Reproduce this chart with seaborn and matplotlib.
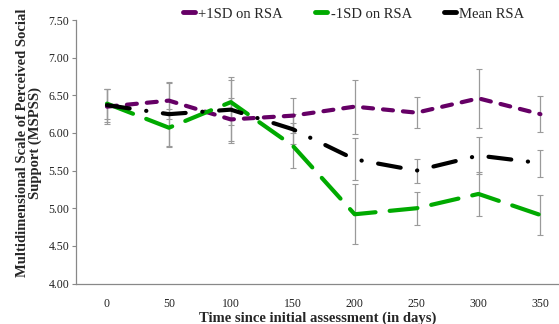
import matplotlib

matplotlib.use("Agg")

import matplotlib.pyplot as plt
import pandas as pd
import seaborn as sns
from matplotlib.lines import Line2D

days = [0, 50, 100, 150, 200, 250, 300, 350]
plus_sd = [6.35, 6.43, 6.18, 6.23, 6.35, 6.27, 6.46, 6.25]
minus_sd = [6.39, 6.07, 6.41, 5.83, 4.92, 5.00, 5.19, 4.91]
mean_rsa = [6.37, 6.25, 6.31, 6.05, 5.65, 5.50, 5.70, 5.60]
plus_err = [0.23, 0.25, 0.28, 0.23, 0.36, 0.21, 0.39, 0.24]
minus_err = [0.20, 0.25, 0.30, 0.30, 0.40, 0.22, 0.29, 0.27]
mean_err = [0.22, 0.42, 0.44, 0.20, 0.28, 0.16, 0.24, 0.18]
labels = ["+1SD on RSA", "-1SD on RSA", "Mean RSA"]

sns.set_style("white")
plt.rcParams["font.family"] = ["Liberation Serif", "DejaVu Serif"]

fig = plt.figure(figsize=(5.59, 3.24), dpi=100)
ax = fig.add_axes([0.136, 0.125, 0.864, 0.813])

series = [
    (plus_sd, plus_err, "#660066", (0, (2.4, 2.4))),
    (minus_sd, minus_err, "#00AA00", (0, (6.7, 3.4))),
    (mean_rsa, mean_err, "black", (0, (5.5, 4, 0.05, 4))),
]

for (vals, err, col, ls), lab in zip(series, labels):
    ax.errorbar(days, vals, yerr=err, fmt="none", ecolor="#9a9a9a",
                elinewidth=0.9, capsize=2, capthick=0.8, zorder=1)

for (vals, err, col, ls), lab in zip(series, labels):
    df = pd.DataFrame({"days": days, "val": vals})
    sns.lineplot(data=df, x="days", y="val", ax=ax, color=col, linewidth=3,
                 linestyle=ls, dash_capstyle="round", solid_capstyle="round",
                 zorder=3, label=None, legend=False)

ax.set_xlim(-25, 365)
ax.set_ylim(4.0, 7.5)
ax.set_xticks(days)
ax.set_yticks([4.0, 4.5, 5.0, 5.5, 6.0, 6.5, 7.0, 7.5])
ax.set_yticklabels([f"{v:.2f}" for v in ax.get_yticks()])
ax.tick_params(axis="both", labelsize=8.5, colors="#222222")
ax.tick_params(axis="y", left=True, length=3, width=0.8, color="#888888", pad=2)
ax.tick_params(axis="x", bottom=False, pad=7)

for s in ["top", "right"]:
    ax.spines[s].set_visible(False)
for s in ["left", "bottom"]:
    ax.spines[s].set_color("#888888")
    ax.spines[s].set_linewidth(0.9)

ax.set_xlabel("Time since initial assessment (in days)", fontsize=10.5,
              fontweight="bold", labelpad=1)
ax.set_ylabel("Multidimensional Scale of Perceived Social\nSupport (MSPSS)",
              fontsize=10.5, fontweight="bold", linespacing=1.0)
ax.yaxis.set_label_coords(-0.07, 0.535)

handles = [Line2D([0], [0], color=c, linewidth=3.5, solid_capstyle="round")
           for _, _, c, _ in series]
fig.legend(handles, labels, loc="center", bbox_to_anchor=(0.633, 0.957),
           ncol=3, frameon=False, fontsize=10.5, handlelength=0.8,
           handletextpad=0.25, columnspacing=2.2)

fig.savefig("out.png", dpi=100)
